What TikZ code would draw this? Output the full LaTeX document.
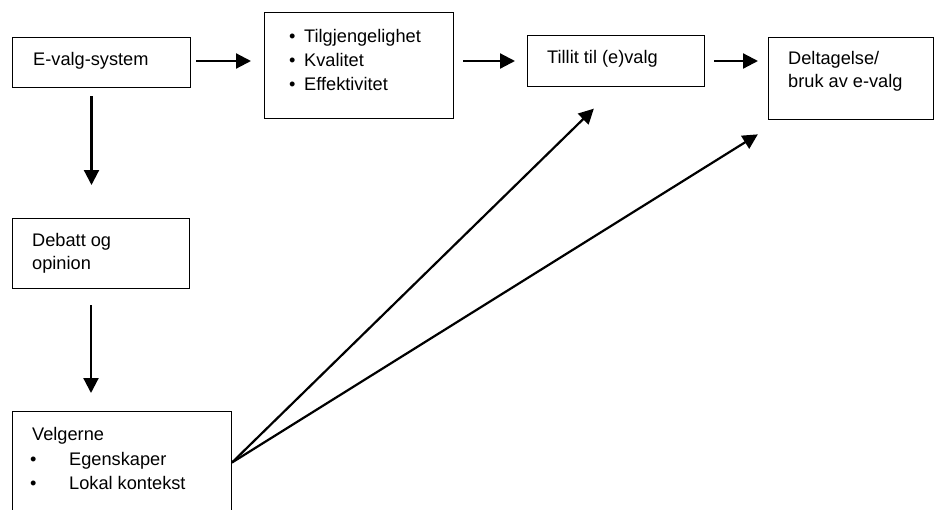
\documentclass[tikz,border=0pt]{standalone}
\usepackage{fontspec}
\setmainfont{Liberation Sans}
\usetikzlibrary{arrows.meta}
\tikzset{
  boxnode/.style={draw,line width=1pt,inner sep=0pt,anchor=north west},
  txtnode/.style={anchor=base west,inner sep=0pt,font=\fontsize{18.2}{23}\selectfont},
  arr/.style={line width=2.2pt,-{Triangle[length=15pt,width=15pt]}},
}
\newcommand{\ebox}[5]{\node[boxnode,minimum width=#4pt,minimum height=#5pt] (#1) at (#2,#3) {};}
\newcommand{\etxt}[4]{\node[txtnode] (#1) at (#2,#3) {#4};}
\newcommand{\ebul}[5]{%
  \node[txtnode] (#1b) at (#2,#4) {\textbullet};
  \node[txtnode] (#1) at (#3,#4) {#5};}

\begin{document}
\begin{tikzpicture}[x=1pt,y=-1pt]
    \useasboundingbox (0,0) rectangle (934,509);
    \clip (0,0) rectangle (934,509);
    % boxes
    \ebox{evalg}{12}{37}{178}{50}
    \ebox{kval}{264}{12}{189}{106}
    \ebox{tillit}{527}{35}{177}{51}
    \ebox{deltak}{768}{37}{165}{82}
    \ebox{debatt}{12}{218}{177}{70}
    \ebox{velg}{12}{411}{219}{102}
    % texts
    \etxt{evalgt}{33}{65}{E-valg-system}
    \ebul{tilg}{289}{304}{42}{Tilgjengelighet}
    \ebul{kvalit}{289}{304}{66}{Kvalitet}
    \ebul{effekt}{289}{304}{90}{Effektivitet}
    \etxt{tillitt}{547}{63}{Tillit til (e)valg}
    \etxt{deltaa}{788}{64}{Deltagelse/}
    \etxt{deltab}{788}{87}{bruk av e-valg}
    \etxt{debatta}{32}{246}{Debatt og}
    \etxt{debattb}{32}{269}{opinion}
    \etxt{velgt}{32}{440}{Velgerne}
    \ebul{egen}{30}{69}{465}{Egenskaper}
    \ebul{lokal}{30}{69}{489}{Lokal kontekst}
    % arrows
    \draw[arr,shorten <=5pt,shorten >=13pt] (evalg.east |- tillit.west) -- (kval.west |- tillit.west);
    \draw[arr,shorten <=9pt,shorten >=12pt] (kval.east |- tillit.west) -- (tillit.west);
    \draw[arr,shorten <=9pt,shorten >=10pt] (tillit.east) -- (tillit.east -| deltak.west);
    \draw[arr,shorten <=8pt,shorten >=33pt] ([xshift=-10pt]evalg.south) -- ([xshift=-10pt]evalg.south |- debatt.north);
    \draw[arr,shorten <=16pt,shorten >=18pt] ([xshift=-10pt]debatt.south) -- ([xshift=-10pt]debatt.south |- velg.north);
    \draw[arr,shorten >=31pt] (velg.east) -- (tillit.south);
    \draw[arr,shorten >=12pt] (velg.east) -- ([yshift=-8pt]deltak.south west);
\end{tikzpicture}
\end{document}
